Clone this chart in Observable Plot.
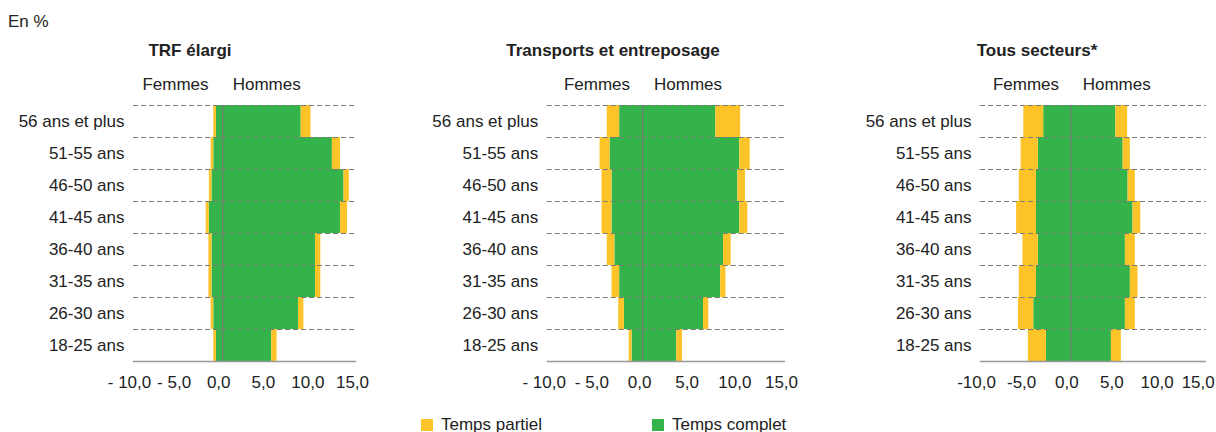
<!DOCTYPE html>
<html><head><meta charset="utf-8">
<script src="https://cdn.jsdelivr.net/npm/d3@7"></script>
<script src="https://cdn.jsdelivr.net/npm/@observablehq/plot@0.6"></script>
<style>
body{margin:0;background:#fff;}
#root{position:relative;width:1216px;height:432px;overflow:hidden;font-family:"Liberation Sans",Arial,sans-serif;color:#222;}
.t{position:absolute;font-size:17px;line-height:20px;white-space:nowrap;}
.c{transform:translateX(-50%);}
.b{font-weight:bold;}
.sw{position:absolute;width:12px;height:12px;}
.p{position:absolute;top:95px;}
.p svg{overflow:visible;}
</style></head><body><div id="root"></div>
<script>
const ages = ["56 ans et plus","51-55 ans","46-50 ans","41-45 ans","36-40 ans","31-35 ans","26-30 ans","18-25 ans"];
const types = ["Temps partiel","Temps complet"];
const titles = ["TRF élargi","Transports et entreposage","Tous secteurs*"];
const xTicks = [-10,-5,0,5,10,15];
const tickLabelsA = ["- 10,0","- 5,0","0,0","5,0","10,0","15,0"];
const tickLabelsB = ["-10,0","-5,0","0,0","5,0","10,0","15,0"];

// TRF élargi
const femFT1 = [0.7, 1.0, 1.2, 1.5, 1.2, 1.2, 1.0, 0.7];
const femPT1 = [0.3, 0.3, 0.3, 0.35, 0.35, 0.35, 0.3, 0.3];
const homFT1 = [8.8, 12.3, 13.6, 13.2, 10.4, 10.4, 8.5, 5.5];
const homPT1 = [1.1, 0.9, 0.6, 0.8, 0.6, 0.6, 0.6, 0.6];
// Transports et entreposage
const femFT2 = [2.4, 3.4, 3.2, 3.2, 2.9, 2.4, 1.9, 1.1];
const femPT2 = [1.3, 1.05, 1.05, 1.05, 0.8, 0.8, 0.6, 0.3];
const homFT2 = [7.7, 10.2, 10.0, 10.2, 8.5, 8.2, 6.4, 3.6];
const homPT2 = [2.6, 1.1, 0.8, 0.85, 0.8, 0.55, 0.55, 0.6];
// Tous secteurs*
const femFT3 = [3.0, 3.6, 3.8, 3.8, 3.6, 3.8, 4.1, 2.7];
const femPT3 = [2.2, 1.9, 1.9, 2.2, 1.7, 1.9, 1.7, 2.0];
const homFT3 = [5.0, 5.8, 6.35, 6.9, 6.05, 6.6, 6.05, 4.5];
const homPT3 = [1.3, 0.8, 0.8, 0.85, 1.1, 0.85, 1.1, 1.1];

const YELLOW = "#fcc428", GREEN = "#33b34a";
const root = document.getElementById("root");
function addText(txt, x, y, cls){const d=document.createElement("div");d.className="t "+(cls||"");d.style.left=x+"px";d.style.top=y+"px";d.textContent=txt;root.appendChild(d);}

function rows(fFT,fPT,hFT,hPT){
  return ages.flatMap((a,i)=>[
    {age:a, type:"Temps complet", v:-fFT[i]},
    {age:a, type:"Temps partiel", v:-fPT[i]},
    {age:a, type:"Temps complet", v:hFT[i]},
    {age:a, type:"Temps partiel", v:hPT[i]}
  ]);
}
const panels = [
  {data: rows(femFT1,femPT1,homFT1,homPT1), left:0, width:376, ml:133, mr:20, labels:tickLabelsA, dx:-4, dxLast:-4},
  {data: rows(femFT2,femPT2,homFT2,homPT2), left:400, width:400, ml:146.7, mr:15, labels:tickLabelsA, dx:-3, dxLast:-4},
  {data: rows(femFT3,femPT3,homFT3,homPT3), left:840, width:376, ml:140, mr:10.3, labels:tickLabelsB, dx:-4, dxLast:-8}
];
const H = 296, MT = 10, MB = 30;
const half = (H-MT-MB)/ages.length/2;
panels.forEach((p)=>{
  const fmt = d=>p.labels[xTicks.indexOf(d)];
  const svg = Plot.plot({
    width:p.width, height:H, marginLeft:p.ml, marginRight:p.mr, marginTop:MT, marginBottom:MB,
    style:{fontFamily:'"Liberation Sans",Arial,sans-serif', fontSize:"17px", color:"#222", background:"transparent"},
    x:{domain:[-10,15]},
    y:{type:"band", domain:ages, padding:0},
    color:{domain:types, range:[YELLOW,GREEN]},
    marks:[
      Plot.barX(p.data, {x:"v", y:"age", fill:"type", order:["Temps complet","Temps partiel"], insetTop:0, insetBottom:0}),
      Plot.ruleY(ages, {y:d=>d, dy:-half, stroke:"#7a7a7a", strokeDasharray:"5,3", strokeWidth:1}),
      Plot.ruleY([ages[ages.length-1]], {y:d=>d, dy:half, stroke:"#999", strokeWidth:1.5}),
      Plot.ruleX([0], {stroke:"#777", strokeWidth:1.2}),
      Plot.axisX({ticks:xTicks.slice(0,-1), tickFormat:fmt, tickSize:0, tickPadding:14, dx:p.dx, fontSize:17, label:null}),
      Plot.axisX({ticks:xTicks.slice(-1), tickFormat:fmt, tickSize:0, tickPadding:14, dx:p.dxLast, fontSize:17, label:null}),
      Plot.axisY({tickSize:0, tickPadding:9, fontSize:17, label:null})
    ]
  });
  const div = document.createElement("div");
  div.className="p"; div.style.left=p.left+"px";
  div.appendChild(svg);
  root.appendChild(div);
});

addText("En %", 8, 12);
addText(titles[0], 190, 41, "c b");
addText(titles[1], 613, 41, "c b");
addText(titles[2], 1037, 41, "c b");
[[175.5,266.7],[597,688],[1026,1116.7]].forEach(([f,h])=>{addText("Femmes",f,75,"c");addText("Hommes",h,75,"c");});
// legend
const s1=document.createElement("div");s1.className="sw";s1.style.left="421px";s1.style.top="419px";s1.style.background=YELLOW;root.appendChild(s1);
addText(types[0], 441, 414.5);
const s2=document.createElement("div");s2.className="sw";s2.style.left="652px";s2.style.top="419px";s2.style.background=GREEN;root.appendChild(s2);
addText(types[1], 672, 414.5);
</script></body></html>
